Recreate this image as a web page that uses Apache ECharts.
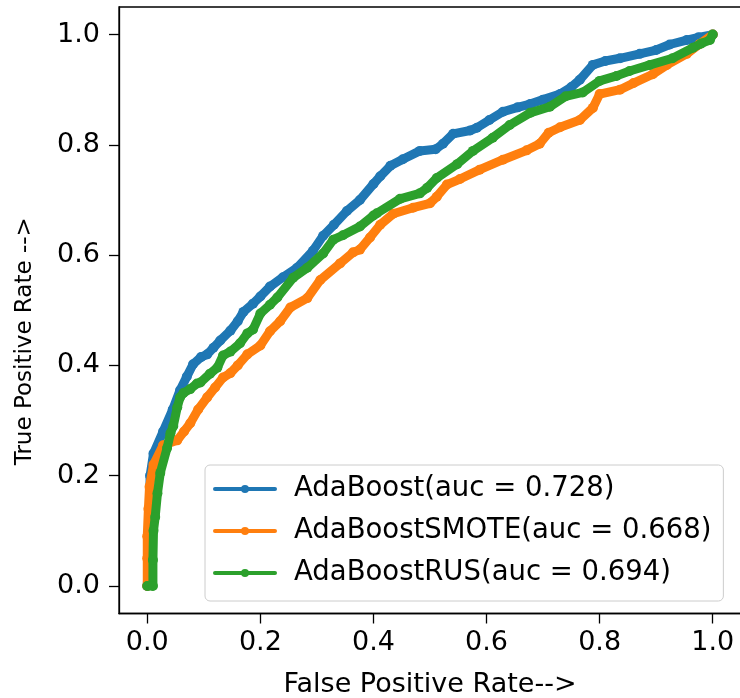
<!DOCTYPE html>
<html>
<head>
<meta charset="utf-8">
<script src="https://cdn.jsdelivr.net/npm/echarts@6/dist/echarts.min.js"></script>
<style>
html,body{margin:0;padding:0;background:#fff;}
#chart{width:740px;height:698px;}
</style>
</head>
<body>
<div id="chart"></div>
<script>
// ---- data ----
const seriesNames = ['AdaBoost(auc = 0.728)', 'AdaBoostSMOTE(auc = 0.668)', 'AdaBoostRUS(auc = 0.694)'];
const tickValues = [0, 0.2, 0.4, 0.6, 0.8, 1.0];

const fprAda = [0, 0.002, 0.004, 0.005, 0.011, 0.028, 0.045, 0.058, 0.07, 0.081, 0.095, 0.106, 0.117, 0.129, 0.147, 0.16, 0.17, 0.187, 0.2, 0.217, 0.24, 0.265, 0.293, 0.311, 0.33, 0.353, 0.376, 0.4, 0.412, 0.43, 0.452, 0.482, 0.51, 0.523, 0.541, 0.571, 0.583, 0.605, 0.629, 0.655, 0.677, 0.7, 0.73, 0.75, 0.765, 0.788, 0.81, 0.836, 0.871, 0.9, 0.924, 0.954, 0.975, 1.0];
const tprAda = [0, 0.05, 0.12, 0.2, 0.24, 0.28, 0.32, 0.355, 0.38, 0.402, 0.415, 0.42, 0.432, 0.445, 0.463, 0.48, 0.497, 0.512, 0.525, 0.543, 0.56, 0.577, 0.608, 0.635, 0.655, 0.68, 0.7, 0.729, 0.743, 0.762, 0.774, 0.789, 0.792, 0.802, 0.82, 0.826, 0.831, 0.845, 0.86, 0.868, 0.874, 0.882, 0.892, 0.905, 0.918, 0.945, 0.952, 0.957, 0.965, 0.972, 0.982, 0.99, 0.995, 1.0];

const fprSmote = [0, 0, 0, 0.002, 0.004, 0.011, 0.028, 0.053, 0.065, 0.076, 0.09, 0.106, 0.12, 0.134, 0.147, 0.16, 0.177, 0.2, 0.217, 0.235, 0.253, 0.283, 0.306, 0.341, 0.364, 0.376, 0.394, 0.412, 0.435, 0.47, 0.5, 0.512, 0.53, 0.553, 0.588, 0.629, 0.671, 0.694, 0.71, 0.73, 0.765, 0.788, 0.8, 0.836, 0.86, 0.894, 0.919, 0.954, 0.977, 1.0];
const tprSmote = [0, 0.05, 0.09, 0.14, 0.18, 0.22, 0.255, 0.264, 0.28, 0.295, 0.32, 0.342, 0.36, 0.378, 0.386, 0.4, 0.42, 0.436, 0.462, 0.48, 0.505, 0.522, 0.555, 0.585, 0.605, 0.61, 0.632, 0.655, 0.675, 0.686, 0.694, 0.706, 0.728, 0.738, 0.755, 0.773, 0.79, 0.802, 0.822, 0.832, 0.845, 0.867, 0.892, 0.9, 0.912, 0.928, 0.945, 0.965, 0.983, 1.0];

const fprRus = [0, 0.01, 0.01, 0.011, 0.014, 0.018, 0.023, 0.035, 0.041, 0.046, 0.053, 0.058, 0.064, 0.076, 0.088, 0.094, 0.111, 0.124, 0.134, 0.147, 0.164, 0.177, 0.187, 0.2, 0.217, 0.23, 0.258, 0.283, 0.311, 0.329, 0.346, 0.376, 0.4, 0.406, 0.447, 0.482, 0.495, 0.512, 0.548, 0.576, 0.611, 0.641, 0.677, 0.712, 0.74, 0.77, 0.8, 0.83, 0.853, 0.889, 0.929, 0.965, 0.98, 0.995, 1.0];
const tprRus = [0, 0, 0.047, 0.1, 0.125, 0.168, 0.205, 0.25, 0.277, 0.29, 0.324, 0.342, 0.35, 0.357, 0.367, 0.369, 0.385, 0.396, 0.418, 0.425, 0.44, 0.458, 0.465, 0.494, 0.51, 0.523, 0.559, 0.577, 0.603, 0.628, 0.636, 0.652, 0.672, 0.676, 0.702, 0.712, 0.722, 0.74, 0.765, 0.789, 0.813, 0.836, 0.858, 0.869, 0.888, 0.895, 0.916, 0.925, 0.934, 0.945, 0.957, 0.976, 0.984, 0.99, 1.0];

const colors = ['#1f77b4', '#ff7f0e', '#2ca02c'];

function pairs(xs, ys) { return xs.map((x, i) => [x, ys[i]]); }

const FONT = 'DejaVu Sans';
const chart = echarts.init(document.getElementById('chart'), null, {renderer: 'canvas'});

function makeAxis(name, isX) {
  return {
    type: 'value',
    min: -0.05, max: 1.05,
    name: name,
    nameLocation: 'middle',
    nameGap: isX ? 58 : 82,
    nameTextStyle: isX
      ? {fontFamily: FONT, fontSize: 27, color: '#000'}
      : {fontFamily: FONT, fontSize: 23, color: '#000', padding: [0, 62, 0, 0]},
    axisLine: {show: true, onZero: false, lineStyle: {color: '#000', width: 1.3}},
    axisTick: {show: true, inside: false, length: 10, customValues: tickValues, lineStyle: {color: '#000', width: 1.3}},
    axisLabel: {show: true, customValues: tickValues, margin: isX ? 16 : 19, fontFamily: FONT, fontSize: 27, color: '#000',
      formatter: v => v.toFixed(1)},
    splitLine: {show: false}
  };
}

const series = [
  {name: seriesNames[0], data: pairs(fprAda, tprAda)},
  {name: seriesNames[1], data: pairs(fprSmote, tprSmote)},
  {name: seriesNames[2], data: pairs(fprRus, tprRus)}
].map((s, i) => ({
  type: 'line',
  name: s.name,
  data: s.data,
  color: colors[i],
  symbol: 'circle',
  symbolSize: 10,
  showSymbol: true,
  lineStyle: {width: 9, color: colors[i], cap: 'round', join: 'round'},
  itemStyle: {color: colors[i]},
  animation: false,
  z: 2 + i
}));

chart.setOption({
  animation: false,
  grid: {left: 119, top: 7, right: -1, bottom: 84.5, containLabel: false, outerBoundsMode: 'none',
    show: true, borderColor: '#000', borderWidth: 1.3, backgroundColor: 'transparent'},
  xAxis: makeAxis('False Positive Rate-->', true),
  yAxis: makeAxis('True Positive Rate -->', false),
  legend: {
    orient: 'vertical',
    left: 205, top: 465,
    padding: [10, 12, 14, 8],
    itemGap: 14,
    itemWidth: 60, itemHeight: 10,
    backgroundColor: 'rgba(255,255,255,0.8)',
    borderColor: '#cccccc', borderWidth: 1, borderRadius: 5,
    lineStyle: {width: 4},
    textStyle: {fontFamily: FONT, fontSize: 27.5, color: '#000', padding: [0, 0, 0, 14]},
    data: seriesNames,
    selectedMode: false
  },
  series: series
});
</script>
</body>
</html>
